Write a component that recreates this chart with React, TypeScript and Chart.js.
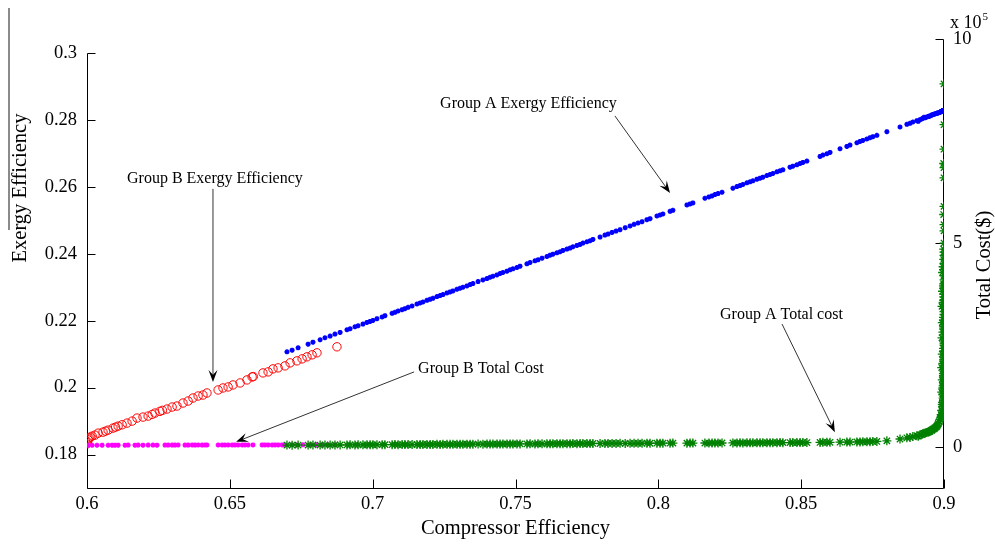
import React, { useEffect, useRef } from "react";
import { Chart, registerables } from "chart.js";

Chart.register(...registerables);

// ---------- axes ----------
const xTicks = [0.6, 0.65, 0.7, 0.75, 0.8, 0.85, 0.9];
const xRange = [0.6, 0.9];
const effTicks = [0.18, 0.2, 0.22, 0.24, 0.26, 0.28, 0.3];
const effRange = [0.17, 0.3042];
const effAxisTop = 0.3;
const costTicks = [0, 500000, 1000000];
const costRange = [-100000, 1000000];

// ---------- Group A (compressor efficiency, exergy efficiency, total cost) ----------
const groupAX = [
  0.6700, 0.6718, 0.6739, 0.6774, 0.6791, 0.6816, 0.6833, 0.6851, 0.6868, 0.6886,
  0.6910, 0.6921, 0.6938, 0.6949, 0.6966, 0.6980, 0.6991, 0.7001, 0.7015, 0.7033,
  0.7043, 0.7068, 0.7078, 0.7089, 0.7103, 0.7113, 0.7124, 0.7138, 0.7155, 0.7166,
  0.7176, 0.7190, 0.7201, 0.7211, 0.7225, 0.7236, 0.7246, 0.7260, 0.7271, 0.7281,
  0.7295, 0.7306, 0.7316, 0.7330, 0.7341, 0.7351, 0.7369, 0.7386, 0.7400, 0.7411,
  0.7421, 0.7435, 0.7446, 0.7456, 0.7470, 0.7481, 0.7491, 0.7505, 0.7516, 0.7540,
  0.7551, 0.7568, 0.7579, 0.7593, 0.7610, 0.7621, 0.7631, 0.7645, 0.7656, 0.7666,
  0.7680, 0.7691, 0.7701, 0.7715, 0.7726, 0.7736, 0.7750, 0.7761, 0.7771, 0.7796,
  0.7813, 0.7824, 0.7838, 0.7852, 0.7866, 0.7884, 0.7901, 0.7915, 0.7929, 0.7943,
  0.7960, 0.7971, 0.7995, 0.8006, 0.8016, 0.8041, 0.8051, 0.8100, 0.8111, 0.8121,
  0.8163, 0.8177, 0.8188, 0.8198, 0.8209, 0.8223, 0.8261, 0.8275, 0.8286, 0.8296,
  0.8310, 0.8321, 0.8331, 0.8345, 0.8356, 0.8366, 0.8380, 0.8391, 0.8401, 0.8415,
  0.8426, 0.8436, 0.8461, 0.8471, 0.8485, 0.8496, 0.8506, 0.8520, 0.8566, 0.8576,
  0.8590, 0.8601, 0.8636, 0.8660, 0.8671, 0.8695, 0.8706, 0.8716, 0.8730, 0.8741,
  0.8751, 0.8765, 0.8800, 0.8846, 0.8870, 0.8881, 0.8891, 0.8905, 0.8916, 0.8926,
  0.8940, 0.8951, 0.8961, 0.8975, 0.8986, 0.8996,
  0.8930, 0.8945, 0.8956, 0.8968, 0.8980, 0.8990,
  0.8993, 0.8995, 0.8994, 0.8996, 0.8995, 0.8997, 0.8996, 0.8998, 0.8997, 0.8998,
  0.8999, 0.8998, 0.8999, 0.8998, 0.8999, 0.9000, 0.8999, 0.9000, 0.8999, 0.9000,
  0.8999, 0.9000, 0.8999, 0.9000, 0.8999, 0.9000, 0.8999, 0.9000, 0.9000, 0.8999,
  0.9000, 0.8999, 0.9000, 0.9000, 0.8999, 0.9000, 0.9000, 0.9000, 0.8999, 0.9000,
  0.9000, 0.9000, 0.8999, 0.9000, 0.9000, 0.9000,
  0.8910, 0.8922, 0.8935, 0.8948, 0.8958, 0.8965, 0.8972, 0.8978, 0.8983, 0.8988, 0.8992,
  0.8992, 0.8996, 0.8999, 0.8994, 0.8998, 0.9000, 0.8992, 0.8996, 0.8999, 0.8994,
  0.8998, 0.9000, 0.8992, 0.8996, 0.8999, 0.8994, 0.8998, 0.9000, 0.8993, 0.8996,
  0.8999, 0.8994, 0.8998, 0.9000, 0.8993, 0.8997, 0.8999, 0.8995, 0.8998, 0.9000,
  0.8995, 0.8997, 0.8999, 0.9000,
];

const groupAEff = [
  0.2107, 0.2112, 0.2119, 0.2130, 0.2136, 0.2143, 0.2149, 0.2154, 0.2160, 0.2165,
  0.2173, 0.2176, 0.2182, 0.2185, 0.2190, 0.2195, 0.2198, 0.2201, 0.2206, 0.2211,
  0.2215, 0.2222, 0.2225, 0.2229, 0.2233, 0.2236, 0.2240, 0.2244, 0.2250, 0.2253,
  0.2256, 0.2261, 0.2264, 0.2267, 0.2272, 0.2275, 0.2278, 0.2283, 0.2286, 0.2289,
  0.2294, 0.2297, 0.2300, 0.2304, 0.2308, 0.2311, 0.2317, 0.2322, 0.2326, 0.2330,
  0.2333, 0.2337, 0.2341, 0.2344, 0.2348, 0.2352, 0.2355, 0.2359, 0.2363, 0.2370,
  0.2374, 0.2379, 0.2382, 0.2387, 0.2392, 0.2396, 0.2399, 0.2403, 0.2406, 0.2410,
  0.2414, 0.2417, 0.2421, 0.2425, 0.2428, 0.2432, 0.2436, 0.2439, 0.2443, 0.2450,
  0.2456, 0.2459, 0.2464, 0.2468, 0.2472, 0.2478, 0.2483, 0.2488, 0.2492, 0.2496,
  0.2502, 0.2505, 0.2513, 0.2516, 0.2519, 0.2527, 0.2530, 0.2546, 0.2549, 0.2552,
  0.2566, 0.2570, 0.2573, 0.2577, 0.2580, 0.2584, 0.2596, 0.2601, 0.2604, 0.2607,
  0.2612, 0.2615, 0.2618, 0.2623, 0.2626, 0.2629, 0.2634, 0.2637, 0.2640, 0.2645,
  0.2648, 0.2651, 0.2659, 0.2662, 0.2666, 0.2670, 0.2673, 0.2677, 0.2691, 0.2695,
  0.2699, 0.2703, 0.2714, 0.2721, 0.2725, 0.2732, 0.2736, 0.2739, 0.2743, 0.2747,
  0.2750, 0.2754, 0.2765, 0.2779, 0.2787, 0.2790, 0.2794, 0.2798, 0.2801, 0.2805,
  0.2809, 0.2812, 0.2816, 0.2820, 0.2823, 0.2827,
  0.2808, 0.2810, 0.2814, 0.2818, 0.2821, 0.2825,
  0.2826, 0.2827, 0.2826, 0.2827, 0.2826, 0.2827, 0.2827, 0.2828, 0.2827, 0.2828,
  0.2828, 0.2827, 0.2828, 0.2827, 0.2828, 0.2828, 0.2827, 0.2828, 0.2827, 0.2828,
  0.2827, 0.2828, 0.2827, 0.2828, 0.2827, 0.2828, 0.2827, 0.2828, 0.2828, 0.2827,
  0.2828, 0.2827, 0.2828, 0.2828, 0.2827, 0.2828, 0.2828, 0.2828, 0.2827, 0.2828,
  0.2828, 0.2828, 0.2827, 0.2828, 0.2828, 0.2828,
  0.2796, 0.2803, 0.2807, 0.2811, 0.2815, 0.2817, 0.2819, 0.2821, 0.2822, 0.2824, 0.2826,
  0.2826, 0.2827, 0.2828, 0.2826, 0.2827, 0.2828, 0.2826, 0.2827, 0.2828, 0.2826,
  0.2827, 0.2828, 0.2826, 0.2827, 0.2828, 0.2826, 0.2827, 0.2828, 0.2826, 0.2827,
  0.2828, 0.2826, 0.2827, 0.2828, 0.2826, 0.2827, 0.2828, 0.2826, 0.2827, 0.2828,
  0.2827, 0.2827, 0.2828, 0.2828,
];

const groupACost = [
  5200, 5000, 5300, 5100, 5400, 5200, 5500, 5300, 5600, 5400,
  5500, 5700, 5600, 5800, 5700, 5900, 6000, 5800, 6100, 6000,
  6200, 6100, 6300, 6200, 6400, 6300, 6500, 6400, 6600, 6500,
  6700, 6600, 6800, 6700, 6900, 6800, 7000, 6900, 7100, 7000,
  7200, 7100, 7300, 7200, 7400, 7300, 7500, 7400, 7600, 7500,
  7700, 7600, 7800, 7700, 7900, 7800, 8000, 7900, 8100, 8000,
  8200, 8100, 8300, 8200, 8400, 8300, 8500, 8400, 8600, 8500,
  8700, 8600, 8800, 8700, 8900, 8800, 9000, 8900, 9100, 9000,
  9200, 9100, 9300, 9200, 9400, 9300, 9500, 9400, 9600, 9500,
  9700, 9600, 9800, 9700, 9900, 9800, 10000, 9900, 10100, 10000,
  10200, 10100, 10300, 10200, 10400, 10300, 10500, 10400, 10600, 10500,
  10700, 10600, 10800, 10700, 10900, 10800, 11000, 10900, 11100, 11000,
  11200, 11100, 11300, 11200, 11400, 11300, 11500, 11400, 11700, 11800,
  11900, 12000, 12200, 12400, 12500, 12800, 13000, 13100, 13300, 13500,
  13700, 14000, 15500, 20000, 23000, 24000, 26000, 28000, 30000, 33000,
  36000, 39000, 44000, 51000, 68000, 100000,
  34000, 37000, 41000, 47000, 58000, 80000,
  75000, 80000, 90000, 100000, 110000, 120000, 130000, 140000, 150000, 160000,
  170000, 180000, 190000, 200000, 210000, 220000, 235000, 250000, 260000, 275000,
  290000, 300000, 310000, 325000, 340000, 350000, 360000, 375000, 390000, 400000,
  420000, 435000, 450000, 470000, 485000, 500000, 530000, 545000, 570000, 590000,
  660000, 685000, 695000, 730000, 790000, 890000,
  27000, 31000, 35000, 38000, 42000, 45000, 49000, 54000, 62000, 72000, 90000,
  77500, 85000, 95000, 105000, 115000, 125000, 135000, 145000, 155000, 165000,
  175000, 185000, 195000, 205000, 215000, 228000, 242000, 255000, 268000, 282000,
  295000, 305000, 318000, 332000, 345000, 355000, 368000, 382000, 395000, 410000,
  428000, 442000, 460000, 478000,
];

// ---------- Group B ----------
const groupBEffX = [
  0.6000, 0.6002, 0.6004, 0.6007, 0.6011, 0.6018, 0.6028, 0.6039, 0.6056, 0.6074,
  0.6091, 0.6109, 0.6123, 0.6140, 0.6158, 0.6175, 0.6196, 0.6214, 0.6228, 0.6238,
  0.6280, 0.6298, 0.6315, 0.6336, 0.6354, 0.6371, 0.6389, 0.6406, 0.6420, 0.6459,
  0.6476, 0.6494, 0.6511, 0.6536, 0.6560, 0.6578, 0.6582, 0.6616, 0.6634, 0.6651,
  0.6669, 0.6693, 0.6711, 0.6735, 0.6753, 0.6770, 0.6788, 0.6805, 0.6875,
  0.6255, 0.6264, 0.6100, 0.6065,
];
const groupBEff = [
  0.1832, 0.1838, 0.1844, 0.1849, 0.1852, 0.1855, 0.1858, 0.1864, 0.1867, 0.1873,
  0.1879, 0.1885, 0.1889, 0.1894, 0.1900, 0.1909, 0.1912, 0.1915, 0.1920, 0.1924,
  0.1936, 0.1942, 0.1945, 0.1954, 0.1960, 0.1969, 0.1975, 0.1978, 0.1984, 0.1993,
  0.1999, 0.2002, 0.2008, 0.2014, 0.2023, 0.2032, 0.2033, 0.2044, 0.2047, 0.2056,
  0.2059, 0.2065, 0.2074, 0.2080, 0.2086, 0.2092, 0.2098, 0.2104, 0.2122,
  0.1929, 0.1932, 0.1882, 0.1870,
];
const groupBCostX = [
  0.6004, 0.6018, 0.6035, 0.6053, 0.6074, 0.6088, 0.6098, 0.6109, 0.6133, 0.6144,
  0.6168, 0.6179, 0.6196, 0.6214, 0.6231, 0.6245, 0.6273, 0.6284, 0.6298, 0.6308,
  0.6319, 0.6343, 0.6354, 0.6368, 0.6378, 0.6389, 0.6403, 0.6413, 0.6420, 0.6459,
  0.6473, 0.6483, 0.6494, 0.6508, 0.6518, 0.6529, 0.6543, 0.6553, 0.6564, 0.6581,
  0.6613, 0.6623, 0.6634, 0.6648, 0.6658, 0.6669, 0.6683, 0.6693, 0.6718, 0.6735,
  0.6756, 0.6781, 0.6802, 0.6823, 0.6844, 0.6868,
];
const groupBCost = [
  4600, 4800, 4700, 4900, 4800, 5000, 4900, 5000, 4900, 5100,
  5000, 5100, 5000, 5200, 5100, 5000, 5200, 5100, 5200, 5100,
  5300, 5200, 5100, 5300, 5200, 5300, 5200, 5400, 5300, 5300,
  5400, 5300, 5400, 5300, 5500, 5400, 5300, 5500, 5400, 5500,
  5500, 5600, 5500, 5400, 5600, 5500, 5600, 5500, 5700, 5600,
  5700, 5600, 5700, 5800, 5700, 5800,
];

// ---------- annotations (data coordinates: x, exergy efficiency) ----------
const annotationLabels = ["Group A Exergy Efficiency", "Group B Exergy Efficiency", "Group B Total Cost", "Group A Total cost"];
const annotationTextX = [0.7236, 0.614, 0.7159, 0.8216];
const annotationTextY = [0.2848, 0.2624, 0.2056, 0.2217];
const arrowFromX = [0.7848, 0.6441, 0.7145, 0.8433];
const arrowFromY = [0.2812, 0.2594, 0.2047, 0.219];
const arrowToX = [0.8041, 0.6441, 0.6522, 0.8618];
const arrowToY = [0.2582, 0.2017, 0.1838, 0.1867];

const FONT = '"Liberation Serif", "Times New Roman", Times, serif';

const fmt = (v: number) => String(Number(v.toFixed(2)));

function drawArrow(ctx: CanvasRenderingContext2D, x1: number, y1: number, x2: number, y2: number) {
  const ang = Math.atan2(y2 - y1, x2 - x1);
  const L = 12;
  const W = 4.5;
  ctx.save();
  ctx.strokeStyle = "#333";
  ctx.lineWidth = 1;
  ctx.beginPath();
  ctx.moveTo(x1, y1);
  ctx.lineTo(x2 - Math.cos(ang) * L * 0.6, y2 - Math.sin(ang) * L * 0.6);
  ctx.stroke();
  ctx.translate(x2, y2);
  ctx.rotate(ang);
  ctx.fillStyle = "#000";
  ctx.beginPath();
  ctx.moveTo(0, 0);
  ctx.lineTo(-L, -W);
  ctx.lineTo(-L * 0.6, 0);
  ctx.lineTo(-L, W);
  ctx.closePath();
  ctx.fill();
  ctx.restore();
}

const matlabAxes = {
  id: "matlabAxes",
  beforeDatasetsDraw(chart: any) {
    const { ctx, chartArea: ca, scales } = chart;
    const xs = scales.x;
    const yl = scales.yEff;
    const yr = scales.yCost;
    const l = Math.round(ca.left) + 0.5;
    const r = Math.round(ca.right) - 0.5;
    const b = Math.round(ca.bottom) + 0.5;
    ctx.save();
    ctx.strokeStyle = "#000";
    ctx.lineWidth = 1;
    ctx.beginPath();
    ctx.moveTo(l, b);
    ctx.lineTo(r, b);
    ctx.moveTo(l, b);
    ctx.lineTo(l, Math.round(yl.getPixelForValue(effAxisTop)) + 0.5);
    ctx.moveTo(r, b);
    ctx.lineTo(r, Math.round(ca.top) + 0.5);
    for (const v of xTicks) {
      const p = Math.round(xs.getPixelForValue(v)) + 0.5;
      ctx.moveTo(p, b);
      ctx.lineTo(p, b - 9);
    }
    for (const v of effTicks) {
      const p = Math.round(yl.getPixelForValue(v)) + 0.5;
      ctx.moveTo(l, p);
      ctx.lineTo(l + 8, p);
    }
    for (const v of costTicks) {
      const p = Math.round(yr.getPixelForValue(v)) + 0.5;
      ctx.moveTo(r, p);
      ctx.lineTo(r - 8, p);
    }
    ctx.stroke();
    ctx.restore();
  },
  afterDraw(chart: any) {
    const { ctx, chartArea: ca, scales } = chart;
    const xs = scales.x;
    const yl = scales.yEff;
    ctx.save();
    ctx.fillStyle = "#000";
    ctx.font = `20.5px ${FONT}`;
    ctx.textAlign = "center";
    ctx.textBaseline = "middle";
    ctx.fillText("Compressor Efficiency", (ca.left + ca.right) / 2, 529);
    ctx.save();
    ctx.translate(21, 188);
    ctx.rotate(-Math.PI / 2);
    ctx.fillText("Exergy Efficiency", 0, 0);
    ctx.restore();
    ctx.save();
    ctx.strokeStyle = "#8a8a8a";
    ctx.lineWidth = 2;
    ctx.beginPath();
    ctx.moveTo(9, 8);
    ctx.lineTo(9, 230);
    ctx.stroke();
    ctx.restore();
    ctx.save();
    ctx.translate(985, 265);
    ctx.rotate(-Math.PI / 2);
    ctx.fillText("Total Cost($)", 0, 0);
    ctx.restore();
    ctx.textAlign = "left";
    ctx.font = `18px ${FONT}`;
    const base = "x 10";
    ctx.fillText(base, 950, 23);
    const w = ctx.measureText(base).width;
    ctx.font = `11px ${FONT}`;
    ctx.fillText("5", 950 + w + 1, 17);
    ctx.font = `16px ${FONT}`;
    ctx.textAlign = "left";
    ctx.textBaseline = "middle";
    annotationLabels.forEach((t, i) => {
      ctx.fillText(t, xs.getPixelForValue(annotationTextX[i]), yl.getPixelForValue(annotationTextY[i]));
      drawArrow(
        ctx,
        xs.getPixelForValue(arrowFromX[i]),
        yl.getPixelForValue(arrowFromY[i]),
        xs.getPixelForValue(arrowToX[i]),
        yl.getPixelForValue(arrowToY[i])
      );
    });
    ctx.restore();
  },
};

export default function App() {
  const ref = useRef<HTMLCanvasElement | null>(null);
  useEffect(() => {
    if (!ref.current) return;
    const tickFont = { family: FONT, size: 18.5 };
    const chart = new Chart(ref.current, {
      type: "scatter",
      data: {
        datasets: [
          {
            label: "Group A Total cost",
            data: groupAX.map((x, i) => ({ x, y: groupACost[i] })),
            yAxisID: "yCost",
            pointStyle: "star",
            radius: 4.5,
            borderWidth: 1.3,
            borderColor: "#008000",
            backgroundColor: "#008000",
          },
          {
            label: "Group B Total Cost",
            data: groupBCostX.map((x, i) => ({ x, y: groupBCost[i] })),
            yAxisID: "yCost",
            pointStyle: "star",
            radius: 2.5,
            borderWidth: 1.6,
            borderColor: "#ff00ff",
            backgroundColor: "#ff00ff",
          },
          {
            label: "Group A Exergy Efficiency",
            data: groupAX.map((x, i) => ({ x, y: groupAEff[i] })),
            yAxisID: "yEff",
            pointStyle: "star",
            radius: 2.5,
            borderWidth: 1.6,
            borderColor: "#0000ff",
            backgroundColor: "#0000ff",
          },
          {
            label: "Group B Exergy Efficiency",
            data: groupBEffX.map((x, i) => ({ x, y: groupBEff[i] })),
            yAxisID: "yEff",
            pointStyle: "circle",
            radius: 4.2,
            borderWidth: 1,
            borderColor: "#ff0000",
            backgroundColor: "rgba(0,0,0,0)",
          },
        ],
      },
      options: {
        responsive: false,
        animation: false,
        events: [],
        layout: { padding: { top: 39, left: 0, right: 0, bottom: 0 } },
        plugins: { legend: { display: false }, tooltip: { enabled: false } },
        scales: {
          x: {
            type: "linear",
            min: xRange[0],
            max: xRange[1],
            grid: { display: false, drawTicks: false, tickLength: 0 },
            border: { display: false },
            afterBuildTicks: (s: any) => {
              s.ticks = xTicks.map((v) => ({ value: v }));
            },
            afterFit: (s: any) => {
              s.height = 59;
            },
            ticks: {
              callback: (v: any) => fmt(Number(v)),
              font: tickFont,
              color: "#000",
              padding: 5,
              autoSkip: false,
              maxRotation: 0,
            },
          },
          yEff: {
            type: "linear",
            position: "left",
            min: effRange[0],
            max: effRange[1],
            grid: { display: false, drawTicks: false, tickLength: 0 },
            border: { display: false },
            afterBuildTicks: (s: any) => {
              s.ticks = effTicks.map((v) => ({ value: v }));
            },
            afterFit: (s: any) => {
              s.width = 87;
            },
            ticks: {
              callback: (v: any) => fmt(Number(v)),
              font: tickFont,
              color: "#000",
              padding: 10,
              autoSkip: false,
            },
          },
          yCost: {
            type: "linear",
            position: "right",
            min: costRange[0],
            max: costRange[1],
            grid: { display: false, drawTicks: false, tickLength: 0 },
            border: { display: false },
            afterBuildTicks: (s: any) => {
              s.ticks = costTicks.map((v) => ({ value: v }));
            },
            afterFit: (s: any) => {
              s.width = 51;
            },
            ticks: {
              callback: (v: any) => String(Number(v) / 100000),
              font: tickFont,
              color: "#000",
              padding: 9,
              autoSkip: false,
            },
          },
        },
      },
      plugins: [matlabAxes],
    } as any);
    return () => chart.destroy();
  }, []);
  return (
    <div style={{ position: "absolute", left: 0, top: 0, width: 995, height: 547, background: "#fff" }}>
      <canvas ref={ref} width={995} height={547} />
    </div>
  );
}
